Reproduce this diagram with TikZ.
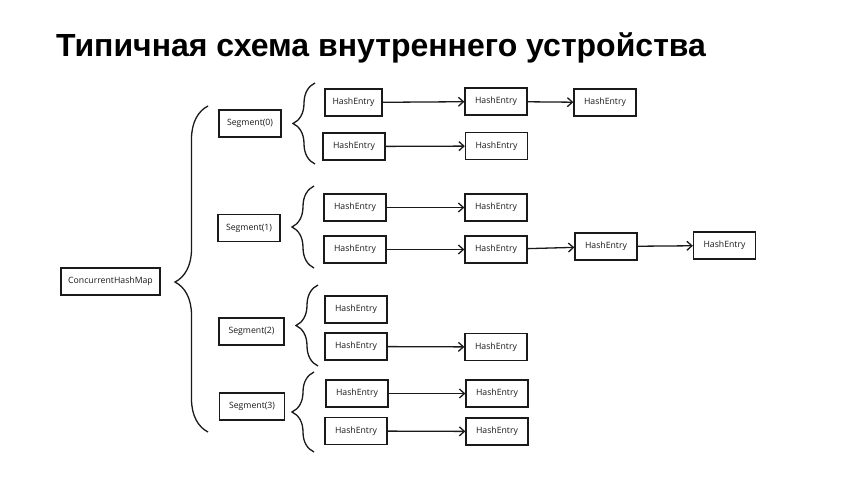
\documentclass[tikz,border=0pt]{standalone}
\usepackage{fontspec}
\setmainfont{Liberation Sans}
\newfontfamily\boxfont{Open Sans}
\usepackage{xcolor}
\usetikzlibrary{arrows.meta,decorations.pathreplacing}
\definecolor{ink}{HTML}{1A1A1A}
\tikzset{
  entry/.style={draw=ink, line width=1.3pt, minimum width=62pt, minimum height=27pt,
    inner sep=0pt, font=\boxfont\fontsize{8.7}{10}\selectfont, text=ink},
  link/.style={line width=1.3pt, draw=ink, -{Straight Barb[length=5pt,width=9pt,line width=1.3pt]}},
  curly/.style={line width=1.3pt, draw=ink, decorate, decoration={brace, amplitude=#1}},
  headline/.style={font=\bfseries\fontsize{32}{38}\selectfont, text=black, inner sep=0pt},
}

\begin{document}
\begin{tikzpicture}[x=1pt, y=1pt]
  \useasboundingbox[fill=white] (0,0) rectangle (850,-478);

  \node[headline, anchor=base west] (title) at (56,-57) {Типичная схема внутреннего устройства};

  % map and segments
  \node[entry, minimum width=99pt] (chm) at (110.5,-281.5) {ConcurrentHashMap};
  \node[entry] (seg0) at (250,-123.5) {Segment(0)};
  \node[entry] (seg1) at (249,-228) {Segment(1)};
  \node[entry, minimum width=65pt] (seg2) at (251.5,-331.5) {Segment(2)};
  \node[entry, minimum width=65pt] (seg3) at (252,-406.5) {Segment(3)};

  % segment 0
  \node[entry, minimum width=57pt] (r0a1) at (353.5,-102.5) {HashEntry};
  \node[entry] (r0a2) at (496,-101.5) {HashEntry};
  \node[entry] (r0a3) at (605,-102.5) {HashEntry};
  \node[entry] (r0b1) at (354,-146.5) {HashEntry};
  \node[entry] (r0b2) at (496.5,-146) {HashEntry};

  % segment 1
  \node[entry] (r1a1) at (355,-207.5) {HashEntry};
  \node[entry] (r1a2) at (496,-207.5) {HashEntry};
  \node[entry] (r1b1) at (355,-249.5) {HashEntry};
  \node[entry] (r1b2) at (496,-249.5) {HashEntry};
  \node[entry] (r1b3) at (606,-246.5) {HashEntry};
  \node[entry] (r1b4) at (724.5,-245.5) {HashEntry};

  % segment 2
  \node[entry] (r2a1) at (356,-309.5) {HashEntry};
  \node[entry] (r2b1) at (356,-346.5) {HashEntry};
  \node[entry] (r2b2) at (496,-347) {HashEntry};

  % segment 3
  \node[entry] (r3a1) at (357,-393.5) {HashEntry};
  \node[entry] (r3a2) at (497,-393.5) {HashEntry};
  \node[entry] (r3b1) at (356,-431) {HashEntry};
  \node[entry] (r3b2) at (497,-431.5) {HashEntry};

  % chains
  \draw[link] (r0a1) -- (r0a2);
  \draw[link] (r0a2) -- (r0a3);
  \draw[link] (r0b1) -- (r0b2);
  \draw[link] (r1a1) -- (r1a2);
  \draw[link] (r1b1) -- (r1b2);
  \draw[link] (r1b2) -- (r1b3);
  \draw[link] (r1b3) -- (r1b4);
  \draw[link] (r2b1) -- (r2b2);
  \draw[link] (r3a1) -- (r3a2);
  \draw[link] (r3b1) -- (r3b2);

  % braces
  \draw[curly=33pt, decoration={aspect=0.46}] (208,-432) -- (208,-106);
  \draw[curly=22pt] (315,-164) -- (315,-83);
  \draw[curly=22pt] (314,-268) -- (314,-186);
  \draw[curly=22pt] (318,-366) -- (318,-285);
  \draw[curly=22pt] (314,-452) -- (314,-372);
\end{tikzpicture}
\end{document}
